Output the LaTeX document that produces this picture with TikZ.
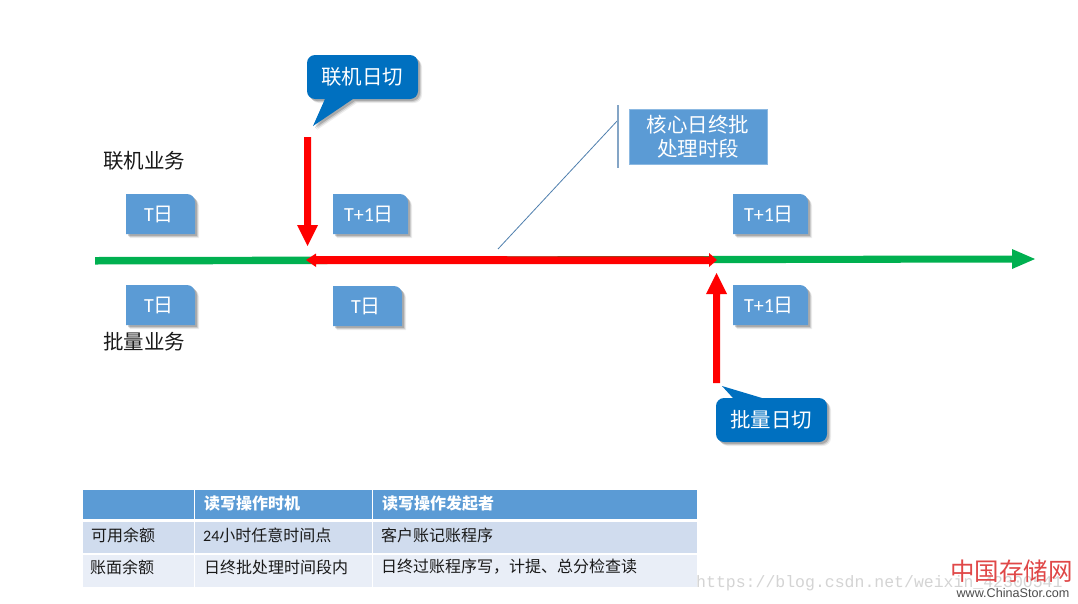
\documentclass[tikz,border=0pt]{standalone}
\usepackage{fontspec}
\usetikzlibrary{shadows}
\setmainfont{Noto Sans CJK SC}
\newfontfamily\latinfont{Carlito}
\newfontfamily\markfont{Liberation Mono}
\newfontfamily\sitefont{Liberation Sans}
\newcommand{\fs}[1]{\fontsize{#1}{\dimexpr #1pt*12/10\relax}\selectfont}
\definecolor{boxblue}{HTML}{5B9BD5}
\definecolor{calloutblue}{HTML}{0070C0}
\definecolor{lineblue}{HTML}{4F7FAE}
\definecolor{rowa}{HTML}{D0DCEE}
\definecolor{rowb}{HTML}{E9EEF7}
\definecolor{axisgreen}{HTML}{00B050}
\definecolor{logored}{HTML}{E04848}
\tikzset{
  x=1pt,y=-1pt,
  softshadow/.style={
    general shadow={shadow xshift=4pt,shadow yshift=-4pt,fill=black,opacity=.07},
    general shadow={shadow xshift=3pt,shadow yshift=-3pt,fill=black,opacity=.12},
    general shadow={shadow xshift=2pt,shadow yshift=-2pt,fill=black,opacity=.18}},
  daybox/.style={draw=none,fill=boxblue,softshadow},
  celltext/.style={anchor=west,inner sep=0pt,font=\fs{16},text=black!90},
  headtext/.style={anchor=west,inner sep=0pt,font=\fs{16}\bfseries,text=white},
  plain/.style={inner sep=0pt,font=\fs{20.5},text=black!90},
  calloutlabel/.style={inner sep=0pt,text=white,font=\fs{20.5}},
}
% Box with one rounded corner at the top right, given by its corners and a label
\newcommand{\daytag}[6]{%
  \path[daybox] (#2,#3) -- (#4-8,#3) .. controls (#4-3.6,#3) and (#4,#3+3.6) .. (#4,#3+8) -- (#4,#5) -- (#2,#5) -- cycle;
  \node[inner sep=0pt,text=white,font=\fs{20}] (#1) at ({(#2+#4)/2-1.5},{(#3+#5)/2}) {#6};
}
\begin{document}
\begin{tikzpicture}
\useasboundingbox (0,0) rectangle (1078,603);
\fill[white] (0,0) rectangle (1078,603);

% time axis
\fill[axisgreen] (95,257) -- (1012,255.5) -- (1012,249) -- (1035,259) -- (1012,269) -- (1012,262.5) -- (95,264.5) -- cycle;

% batch window on the axis
\fill[red] (306,260) -- (316,253.5) -- (316,256) -- (709,256.5) -- (709,253) -- (717,260) -- (709,267) -- (709,264) -- (316,264) -- (316,267) -- cycle;

% cut-over arrows
\fill[red] (304,137) -- (311,137) -- (311,225) -- (318,225) -- (307.5,246) -- (297,225) -- (304,225) -- cycle;
\fill[red] (713,383) -- (720,383) -- (720,294) -- (727,294) -- (716.5,273) -- (706,294) -- (713,294) -- cycle;

% callouts
\path[fill=calloutblue,softshadow]
  (315,55) -- (410,55) .. controls (414.4,55) and (418,58.6) .. (418,63)
  -- (418,91) .. controls (418,95.4) and (414.4,99) .. (410,99)
  -- (353,99) -- (313,126) -- (325,99) -- (315,99) .. controls (310.6,99) and (307,95.4) .. (307,91)
  -- (307,63) .. controls (307,58.6) and (310.6,55) .. (315,55) -- cycle;
\node[calloutlabel] (online) at (362,77) {联机日切};

\path[fill=calloutblue,softshadow]
  (722,386) -- (762,398) -- (819,398) .. controls (823.4,398) and (827,401.6) .. (827,406)
  -- (827,434) .. controls (827,438.4) and (823.4,442) .. (819,442)
  -- (724,442) .. controls (719.6,442) and (716,438.4) .. (716,434)
  -- (716,406) .. controls (716,401.6) and (719.6,398) .. (724,398) -- (733,398) -- cycle;
\node[calloutlabel] (batch) at (771,420) {批量日切};

% period label and its leader
\coordinate (leaderEnd) at (498,249);
\coordinate (barMid) at (618,120);
\draw[lineblue,line width=.8pt] (leaderEnd) -- (barMid);
\draw[lineblue!70,line width=1.4pt] (618,105) -- (618,168);
\node[fill=boxblue,draw=boxblue!70,line width=.6pt,minimum width=138pt,minimum height=55pt,inner sep=0pt,
      text=white,align=center,font=\fontsize{20.5}{24}\selectfont] (period) at (698,136.5)
  {核心日终批\\处理时段};

% day tags
\daytag{t1}{126}{194}{195}{234}{{\latinfont T}日}
\daytag{t2}{333}{194}{408}{234}{{\latinfont T+1}日}
\daytag{t3}{733}{194}{808}{234}{{\latinfont T+1}日}
\daytag{t4}{126}{285}{195}{325}{{\latinfont T}日}
\daytag{t5}{333}{286}{402}{326}{{\latinfont T}日}
\daytag{t6}{733}{285}{808}{325}{{\latinfont T+1}日}

% side captions
\node[plain] (onlinebiz) at (144,161) {联机业务};
\node[plain] (batchbiz) at (144,342) {批量业务};

% balance table
\fill[boxblue] (83,489.5) rectangle (194,519);
\fill[boxblue] (195,489.5) rectangle (372,519);
\fill[boxblue] (373,489.5) rectangle (697,519);
\fill[rowa] (83,522) rectangle (194,553);
\fill[rowa] (195,522) rectangle (372,553);
\fill[rowa] (373,522) rectangle (697,553);
\fill[rowb] (83,555) rectangle (194,587);
\fill[rowb] (195,555) rectangle (372,587);
\fill[rowb] (373,555) rectangle (697,587);
\node[headtext] (h1) at (204,503) {读写操作时机};
\node[headtext] (h2) at (382,503) {读写操作发起者};
\node[celltext] (r1a) at (91,535) {可用余额};
\node[celltext] (r1b) at (203,535) {{\latinfont 24}小时任意时间点};
\node[celltext] (r1c) at (381,535) {客户账记账程序};
\node[celltext] (r2a) at (90,567) {账面余额};
\node[celltext] (r2b) at (204,567) {日终批处理时间段内};
\node[celltext] (r2c) at (381,567) {日终过账程序写，计提、总分检查读};

% site marks in the corner
\node[anchor=west,inner sep=0pt,font=\markfont\fs{16.5},text=black!17] (url) at (696,583) {https://blog.csdn.net/weixin\_42300541};
\node[inner sep=0pt,font=\fs{24.5},text=logored] (logo) at (1011.5,571) {中国存储网};
\node[inner sep=0pt,font=\sitefont\fs{12.6},text=black!70] (site) at (1013,593) {www.ChinaStor.com};
\end{tikzpicture}
\end{document}
